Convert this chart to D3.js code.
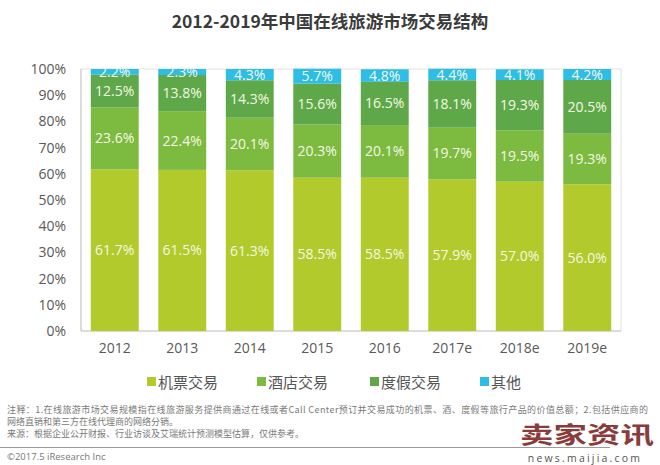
<!DOCTYPE html>
<html><head><meta charset="utf-8">
<script src="https://cdn.jsdelivr.net/npm/d3@7"></script>
<style>
body{margin:0;background:#fff;}
svg{display:block;font-family:"Open Sans","Noto Sans CJK SC",sans-serif;}
</style></head>
<body><svg id="c" width="660" height="465"></svg>
<script>
const categories = ["2012","2013","2014","2015","2016","2017e","2018e","2019e"];
const seriesNames = ["机票交易","酒店交易","度假交易","其他"];
const flight   = [61.7,61.5,61.3,58.5,58.5,57.9,57.0,56.0];
const hotel    = [23.6,22.4,20.1,20.3,20.1,19.7,19.5,19.3];
const vacation = [12.5,13.8,14.3,15.6,16.5,18.1,19.3,20.5];
const other    = [2.2,2.3,4.3,5.7,4.8,4.4,4.1,4.2];
const yTicks = [0,10,20,30,40,50,60,70,80,90,100];
const colors = ["#b2ca2c","#7dba40","#5ea849","#2dbde5"];

const svg = d3.select("#c");
const m = {l:81, r:621, t:69, b:331};
const x = d3.scaleBand().domain(categories).range([m.l, m.r]).paddingInner(0.29).paddingOuter(0.145);
const y = d3.scaleLinear().domain([0,100]).range([m.b, m.t]);

// title
svg.append("text").attr("x",330).attr("y",28).attr("text-anchor","middle")
  .attr("font-size",17.5).attr("font-weight","bold").attr("fill","#3b3b3b")
  .attr("font-family","'Noto Sans CJK SC',sans-serif").text("2012-2019年中国在线旅游市场交易结构");

// frame
svg.append("rect").attr("x",m.l).attr("y",m.t).attr("width",m.r-m.l).attr("height",m.b-m.t)
  .attr("fill","none").attr("stroke","#e2e2e2").attr("stroke-width",1);
svg.append("line").attr("x1",m.l).attr("x2",m.l).attr("y1",m.t).attr("y2",m.b).attr("stroke","#c8c8c8");
svg.append("line").attr("x1",m.l).attr("x2",m.r).attr("y1",m.b).attr("y2",m.b).attr("stroke","#c8c8c8");

// stack
const rows = categories.map((c,i)=>({cat:c, s0:flight[i], s1:hotel[i], s2:vacation[i], s3:other[i]}));
const stack = d3.stack().keys(["s0","s1","s2","s3"])(rows);
const g = svg.append("g");
stack.forEach((layer,k)=>{
  g.selectAll(null).data(layer).enter().append("rect")
    .attr("x",d=>x(d.data.cat)).attr("width",x.bandwidth())
    .attr("y",d=>y(d[1])).attr("height",d=>y(d[0])-y(d[1]))
    .attr("fill",colors[k]);
  g.selectAll(null).data(layer).enter().append("text")
    .attr("x",d=>x(d.data.cat)+x.bandwidth()/2)
    .attr("y",d=>y((d[0]+d[1])/2)+5)
    .attr("text-anchor","middle").attr("font-size",14).attr("fill","#f4f8e4")
    .text(d=>(d[1]-d[0]).toFixed(1)+"%");
});

// y axis labels
const yAxis = d3.axisLeft(y).tickValues(yTicks).tickFormat(d=>d+"%").tickSize(0).tickPadding(15);
const ya = svg.append("g").attr("transform",`translate(${m.l},0)`).call(yAxis);
ya.select(".domain").remove();
ya.selectAll("text").attr("font-size",14).attr("fill","#595959").attr("font-family","'Open Sans',sans-serif");

// x axis labels
const xAxis = d3.axisBottom(x).tickSize(0).tickPadding(12);
const xa = svg.append("g").attr("transform",`translate(0,${m.b})`).call(xAxis);
xa.select(".domain").remove();
xa.selectAll("text").attr("font-size",14).attr("fill","#595959").attr("font-family","'Open Sans',sans-serif");

// legend
const legX = [147,257,370,480];
seriesNames.forEach((n,i)=>{
  svg.append("rect").attr("x",legX[i]).attr("y",377).attr("width",9).attr("height",9).attr("fill",colors[i]);
  svg.append("text").attr("x",legX[i]+11).attr("y",388).attr("font-size",15).attr("fill","#555")
    .attr("font-family","'Noto Sans CJK SC',sans-serif").text(n);
});

// notes
const notes = ["注释：1.在线旅游市场交易规模指在线旅游服务提供商通过在线或者Call Center预订并交易成功的机票、酒、度假等旅行产品的价值总额；2.包括供应商的",
  "网络直销和第三方在线代理商的网络分销。",
  "来源：根据企业公开财报、行业访谈及艾瑞统计预测模型估算，仅供参考。"];
notes.forEach((t,i)=>{
  svg.append("text").attr("x",7).attr("y",413+i*12).attr("font-size",9).attr("fill","#7a7a7a")
    .attr("font-family","'Noto Sans CJK SC',sans-serif").attr("textLength", i===0?641:null).text(t);
});
svg.append("line").attr("x1",0).attr("x2",610).attr("y1",447.5).attr("y2",447.5).attr("stroke","#9a9a9a");
svg.append("text").attr("x",7).attr("y",460).attr("font-size",9.5).attr("fill","#777").text("©2017.5 iResearch Inc");

// watermark
svg.append("text").attr("x",587).attr("y",443).attr("text-anchor","middle").attr("font-size",23)
  .attr("font-weight","bold").attr("fill","#8a3b3b").attr("font-family","'Noto Sans CJK SC',sans-serif")
  .attr("textLength",134).attr("lengthAdjust","spacingAndGlyphs").text("卖家资讯");
svg.append("text").attr("x",585).attr("y",462).attr("text-anchor","middle").attr("font-size",10.5)
  .attr("fill","#555").attr("letter-spacing",2.2).text("news.maijia.com");
</script></body></html>
